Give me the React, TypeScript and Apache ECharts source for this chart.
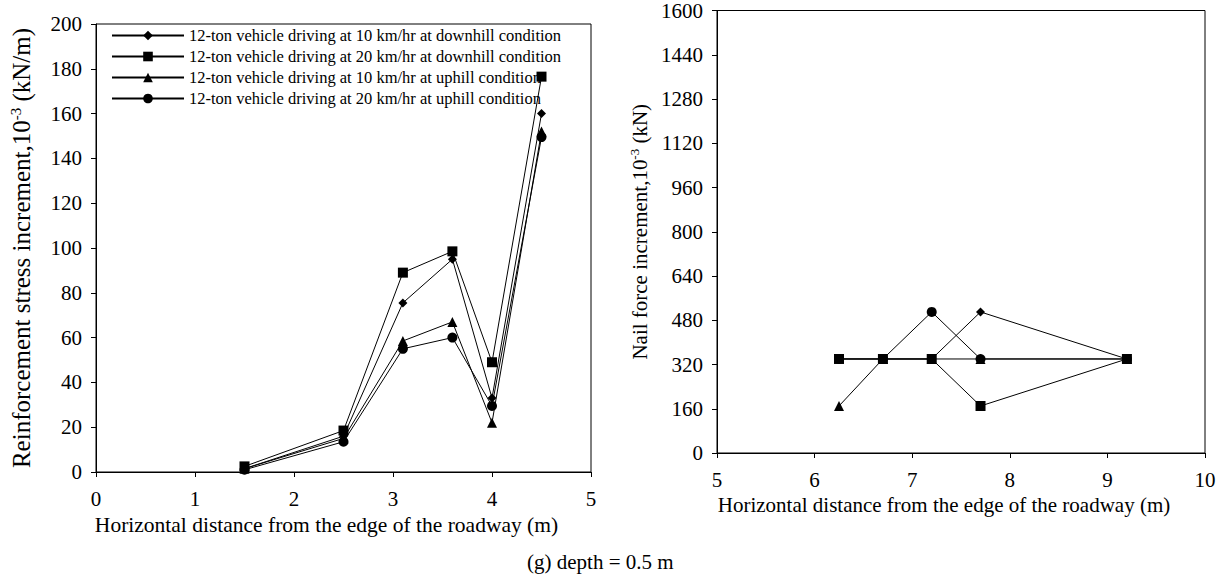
import React, { useEffect, useRef } from "react";
import * as echarts from "echarts";

const seriesNames = [
  "12-ton vehicle driving at 10 km/hr at downhill condition",
  "12-ton vehicle driving at 20 km/hr at downhill condition",
  "12-ton vehicle driving at 10 km/hr at uphill condition",
  "12-ton vehicle driving at 20 km/hr at uphill condition",
];
const symbols = ["diamond", "rect", "triangle", "circle"];
const symbolSizes = [9, 10, 10, 10];

// Left panel: reinforcement stress increment
const leftX = [1.5, 2.5, 3.1, 3.6, 4.0, 4.5];
const leftDown10 = [1.5, 16, 75.5, 95, 33, 160];
const leftDown20 = [2.5, 18.5, 89, 98.5, 49, 176.5];
const leftUp10 = [1.5, 15, 58.5, 67, 22, 152];
const leftUp20 = [1, 13.5, 55, 60, 29.5, 149.5];

// Right panel: nail force increment
const rightX = [6.25, 6.7, 7.2, 7.7, 9.2];
const rightDown10 = [340, 340, 340, 510, 340];
const rightDown20 = [340, 340, 340, 170, 340];
const rightUp10 = [170, 340, 340, 340, 340];
const rightUp20 = [340, 340, 510, 340, 340];

const leftSeries = [leftDown10, leftDown20, leftUp10, leftUp20];
const rightSeries = [rightDown10, rightDown20, rightUp10, rightUp20];

const FONT = "Liberation Serif";
const FS = 21;

export default function App() {
  const ref = useRef<HTMLDivElement>(null);
  useEffect(() => {
    if (!ref.current) return;
    const chart = echarts.init(ref.current, undefined, { renderer: "svg" });
    const axisCommon = {
      axisLine: { show: true, onZero: false, lineStyle: { color: "#000", width: 1 } },
      axisTick: { show: true, inside: false, length: 5, lineStyle: { color: "#000" } },
      splitLine: { show: false },
      axisLabel: { color: "#000", fontFamily: FONT, fontSize: FS, formatter: (v: number) => String(v) },
      nameTextStyle: { color: "#000", fontFamily: FONT, fontSize: FS },
    };
    const makeSeries = (data: number[][], xs: number[], gridIdx: number) =>
      data.map((vals, i) => ({
        name: seriesNames[i],
        type: "line",
        xAxisIndex: gridIdx,
        yAxisIndex: gridIdx,
        data: xs.map((x, j) => [x, vals[j]]),
        symbol: symbols[i],
        symbolSize: symbolSizes[i],
        showSymbol: true,
        z: i === 1 ? 4 : 2,
        lineStyle: { color: "#000", width: 1 },
        itemStyle: { color: "#000", borderWidth: 0 },
        emphasis: { disabled: true },
      }));
    const supL = { fontSize: 15, fontFamily: FONT, color: "#000", padding: [0, 0, 11, 0] };
    const supR = { fontSize: 13, fontFamily: FONT, color: "#000", padding: [0, 0, 10, 0] };
    chart.setOption({
      animation: false,
      backgroundColor: "#fff",
      textStyle: { fontFamily: FONT },
      grid: [
        { left: 96, right: 633, top: 24, bottom: 111, show: true, borderColor: "#000", borderWidth: 1, backgroundColor: "transparent" },
        { left: 717, right: 19, top: 9, bottom: 130, show: true, borderColor: "#000", borderWidth: 1, backgroundColor: "transparent" },
      ],
      legend: {
        data: seriesNames,
        orient: "vertical",
        left: 106,
        top: 22,
        itemWidth: 72,
        itemHeight: 12,
        itemGap: 4,
        textStyle: { color: "#000", fontFamily: FONT, fontSize: 16.5 },
        selectedMode: false,
      },
      xAxis: [
        {
          ...axisCommon,
          gridIndex: 0,
          type: "value",
          min: 0,
          max: 5,
          interval: 1,
          name: "Horizontal distance from the edge of the roadway (m)",
          nameLocation: "middle",
          nameGap: 38,
          nameTextStyle: { ...axisCommon.nameTextStyle, fontSize: 21.5, padding: [0, 34, 0, 0] },
          axisLabel: { ...axisCommon.axisLabel, margin: 16 },
        },
        {
          ...axisCommon,
          gridIndex: 1,
          type: "value",
          min: 5,
          max: 10,
          interval: 1,
          name: "Horizontal distance from the edge of the roadway (m)",
          nameLocation: "middle",
          nameGap: 37,
          nameTextStyle: { ...axisCommon.nameTextStyle, fontSize: 21, padding: [0, 34, 0, 0] },
          axisLabel: { ...axisCommon.axisLabel, margin: 16 },
        },
      ],
      yAxis: [
        {
          ...axisCommon,
          gridIndex: 0,
          type: "value",
          min: 0,
          max: 200,
          interval: 20,
          name: "Reinforcement stress increment,10{sup|-3} (kN/m)",
          nameLocation: "middle",
          nameRotate: 90,
          nameGap: 62,
          nameTextStyle: { ...axisCommon.nameTextStyle, fontSize: 25, rich: { sup: supL } },
          axisLabel: { ...axisCommon.axisLabel, margin: 14 },
        },
        {
          ...axisCommon,
          gridIndex: 1,
          type: "value",
          min: 0,
          max: 1600,
          interval: 160,
          name: "Nail force increment,10{sup|-3} (kN)",
          nameLocation: "middle",
          nameRotate: 90,
          nameGap: 66,
          nameTextStyle: { ...axisCommon.nameTextStyle, rich: { sup: supR } },
          axisLabel: { ...axisCommon.axisLabel, margin: 14 },
        },
      ],
      graphic: [
        {
          type: "text",
          left: 527,
          top: 551,
          style: { text: "(g) depth = 0.5 m", fill: "#000", font: `21px "${FONT}"` },
        },
      ],
      series: [...makeSeries(leftSeries, leftX, 0), ...makeSeries(rightSeries, rightX, 1)],
    });
    return () => chart.dispose();
  }, []);
  return <div ref={ref} style={{ width: 1224, height: 583, position: "absolute", left: 0, top: 0 }} />;
}
